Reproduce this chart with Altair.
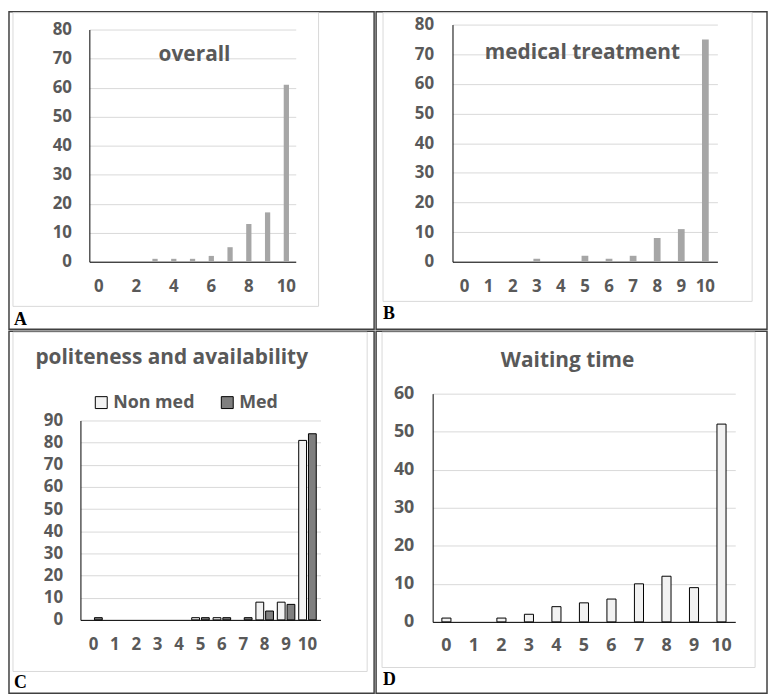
import altair as alt
import pandas as pd

scores = list(range(11))
overall = [0, 0, 0, 1, 1, 1, 2, 5, 13, 17, 61]
medical = [0, 0, 0, 1, 0, 2, 1, 2, 8, 11, 75]
polite_nonmed = [0, 0, 0, 0, 0, 1, 1, 0, 8, 8, 81]
polite_med = [1, 0, 0, 0, 0, 1, 1, 1, 4, 7, 84]
waiting = [1, 0, 1, 2, 4, 5, 6, 10, 12, 9, 52]
groups = ["Non med", "Med"]

FONT = "Open Sans"
TXT = "#595959"
GRID = "#D9D9D9"
one = pd.DataFrame({"a": [0]})


def deco(bg, title, title_xy, title_size, letter, letter_xy):
    rect = alt.Chart(one).mark_rect(fillOpacity=0, stroke=GRID, strokeWidth=1).encode(
        x=alt.value(bg[0]), x2=alt.value(bg[1]), y=alt.value(bg[2]), y2=alt.value(bg[3]))
    t = alt.Chart(one).mark_text(font=FONT, fontWeight="bold", fontSize=title_size, color=TXT,
                                 align="center", baseline="middle", text=title).encode(
        x=alt.value(title_xy[0]), y=alt.value(title_xy[1]))
    l = alt.Chart(one).mark_text(font="Liberation Serif", fontWeight="bold", fontSize=18, color="black",
                                 align="left", baseline="alphabetic", text=letter).encode(
        x=alt.value(letter_xy[0]), y=alt.value(letter_xy[1]))
    return rect, t, l


def axes(W, H, xr, yr, ymax, xvals, ylabpad, xlabpad, fsize, pad_inner):
    xenc = alt.X("score:O", scale=alt.Scale(domain=scores, range=xr, paddingInner=pad_inner),
                 axis=alt.Axis(title=None, values=xvals, labelAngle=0, ticks=False, grid=False,
                               domainColor="black", domainWidth=1,
                               labelFont=FONT, labelFontWeight="bold", labelFontSize=fsize,
                               labelColor=TXT, labelBaseline="middle", labelPadding=xlabpad,
                               offset=-(H - yr[0])))
    yenc = alt.Y("value:Q", scale=alt.Scale(domain=[0, ymax], range=yr, nice=False, zero=True),
                 axis=alt.Axis(title=None, values=list(range(0, ymax + 1, 10)), ticks=False,
                               grid=True, gridColor=GRID, gridWidth=1,
                               domainColor="black", domainWidth=1,
                               labelFont=FONT, labelFontWeight="bold", labelFontSize=fsize,
                               labelColor=TXT, labelPadding=ylabpad, offset=-xr[0]))
    return xenc, yenc


# Panel A
W, H = 368, 320
dfA = pd.DataFrame({"score": scores, "value": overall})
xe, ye = axes(W, H, [81, 289], [252, 18], 80, [0, 2, 4, 6, 8, 10], 18, 25, 17, 0.72)
barsA = alt.Chart(dfA).mark_bar(color="#A6A6A6").encode(x=xe, y=ye).transform_filter("datum.value > 0")
r, t, l = deco([4, 312, 1, 297], "overall", (187, 44), 21, "A", (5, 316))
A = alt.layer(r, barsA, t, l).properties(width=W, height=H)

# Panel B
W, H = 394, 320
dfB = pd.DataFrame({"score": scores, "value": medical})
xe, ye = axes(W, H, [77, 344], [252, 13], 80, scores, 19, 25, 17, 0.72)
barsB = alt.Chart(dfB).mark_bar(color="#A6A6A6").encode(x=xe, y=ye).transform_filter("datum.value > 0")
r, t, l = deco([7, 379, 1, 292], "medical treatment", (208, 42), 21, "B", (7, 310))
B = alt.layer(r, barsB, t, l).properties(width=W, height=H)

# Panel C
W, H = 368, 365
dfC = pd.DataFrame({
    "score": scores * 2,
    "value": polite_nonmed + polite_med,
    "group": [groups[0]] * 11 + [groups[1]] * 11,
})
xe, ye = axes(W, H, [72, 314], [291, 90], 90, scores, 18, 25, 17, 0.18)
barsC = alt.Chart(dfC).mark_bar(stroke="black", strokeWidth=1).encode(
    x=xe, y=ye,
    xOffset=alt.XOffset("group:N", scale=alt.Scale(domain=groups, paddingInner=0.2, paddingOuter=0)),
    fill=alt.Fill("group:N", scale=alt.Scale(domain=groups, range=["#F2F2F2", "#7F7F7F"]),
                  legend=alt.Legend(title=None, orient="none", legendX=84, legendY=63,
                                    direction="horizontal", symbolType="square", symbolSize=144,
                                    symbolStrokeColor="black", symbolStrokeWidth=1,
                                    labelFont=FONT, labelFontSize=18, labelFontWeight="bold",
                                    labelColor=TXT, columnPadding=24, labelOffset=3, padding=0)),
).transform_filter("datum.value > 0")
r, t, l = deco([4, 361, 1, 343], "politeness and availability", (164, 27), 21, "C", (5, 360))
C = alt.layer(r, barsC, t, l).properties(width=W, height=H)

# Panel D
W, H = 394, 365
dfD = pd.DataFrame({"score": scores, "value": waiting})
xe, ye = axes(W, H, [57, 362], [293, 63], 60, scores, 19, 24, 18, 0.67)
barsD = alt.Chart(dfD).mark_bar(fill="#F2F2F2", stroke="black", strokeWidth=1).encode(
    x=xe, y=ye).transform_filter("datum.value > 0")
r, t, l = deco([6, 382, 1, 339], "Waiting time", (193, 30), 21, "D", (7, 357))
D = alt.layer(r, barsD, t, l).properties(width=W, height=H)

chart = alt.vconcat(
    alt.hconcat(A, B, spacing=0),
    alt.hconcat(C, D, spacing=0),
    spacing=0,
).resolve_scale(x="independent", y="independent", fill="independent").properties(
    padding=0
).configure_view(stroke="#404040", strokeWidth=1.5).configure_concat(spacing=0)

chart.save("out.html", embed_options={"renderer": "svg", "actions": False})
